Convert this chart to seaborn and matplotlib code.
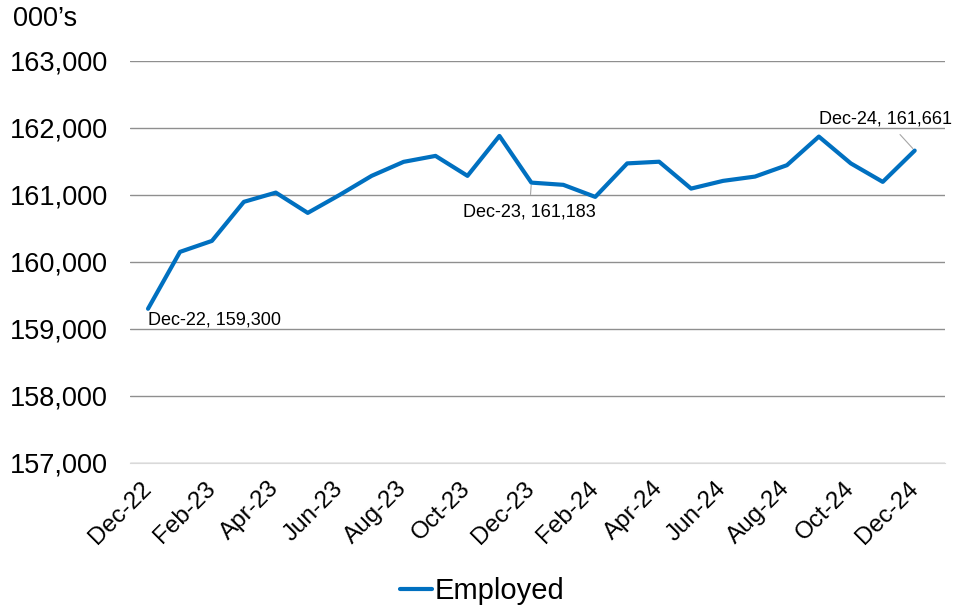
import pandas as pd
import matplotlib.pyplot as plt
import seaborn as sns

months = ['Dec-22', 'Jan-23', 'Feb-23', 'Mar-23', 'Apr-23', 'May-23', 'Jun-23',
          'Jul-23', 'Aug-23', 'Sep-23', 'Oct-23', 'Nov-23', 'Dec-23',
          'Jan-24', 'Feb-24', 'Mar-24', 'Apr-24', 'May-24', 'Jun-24',
          'Jul-24', 'Aug-24', 'Sep-24', 'Oct-24', 'Nov-24', 'Dec-24']
employed = [159300, 160149, 160313, 160896, 161034, 160731, 161000,
            161284, 161493, 161582, 161284, 161880, 161183,
            161150, 160970, 161470, 161495, 161094, 161209,
            161273, 161443, 161870, 161470, 161194, 161661]
y_ticks = [157000, 158000, 159000, 160000, 161000, 162000, 163000]

df = pd.DataFrame({'Month': months, 'Employed': employed})

sns.set_style('white')
plt.rcParams['font.family'] = ['Liberation Sans', 'DejaVu Sans']
plt.rcParams['text.color'] = 'black'
plt.rcParams['xtick.color'] = 'black'
plt.rcParams['ytick.color'] = 'black'

fig = plt.figure(figsize=(9.64, 6.09), dpi=100)
ax = fig.add_axes([0.135, 0.240, 0.845, 0.660])

sns.lineplot(data=df, x='Month', y='Employed', sort=False, color='#0070C0',
             linewidth=3, ax=ax, label='Employed', legend=False)

ax.set_ylim(157000, 163000)
ax.set_xlim(-0.56, 24.94)
ax.set_yticks(y_ticks)
ax.set_yticklabels([f'{v:,}' for v in y_ticks])
ax.set_xticks(range(0, len(months), 2))
ax.set_xticklabels(months[::2], rotation=45, ha='right', va='center',
                   rotation_mode='anchor')
ax.tick_params(axis='y', length=0, pad=16, labelsize=19.5)
ax.tick_params(axis='x', length=0, pad=16, labelsize=17.5)
ax.set_xlabel('')
ax.set_ylabel('')
ax.yaxis.grid(True, color='#8f8f8f', linewidth=1)
for s in ['top', 'right', 'left']:
    ax.spines[s].set_visible(False)
ax.spines['bottom'].set_color('#d9d9d9')

fig.text(0.013, 0.968, '000\u2019s', fontsize=19.5, ha='left', va='center')

# point labels
idx = [0, 12, 24]
offsets = [(0, -8), (-1.5, -21), (-21, 23)]
for i, off in zip(idx, offsets):
    txt = f'{months[i]}, {employed[i]:,}'
    if i == 0:
        ax.annotate(txt, (i, employed[i]), xytext=off, textcoords='offset points',
                    ha='left', va='center', fontsize=13)
    else:
        ax.annotate(txt, (i, employed[i]), xytext=off, textcoords='offset points',
                    ha='center', va='center', fontsize=13,
                    arrowprops=dict(arrowstyle='-', color='#a6a6a6', lw=0.8,
                                    shrinkA=4, shrinkB=2))

handles, labels = ax.get_legend_handles_labels()
fig.legend(handles, labels, loc='center', bbox_to_anchor=(0.5, 0.03),
           frameon=False, fontsize=21, handlelength=1.1, handletextpad=0.1)

fig.savefig('out.png', dpi=100)
